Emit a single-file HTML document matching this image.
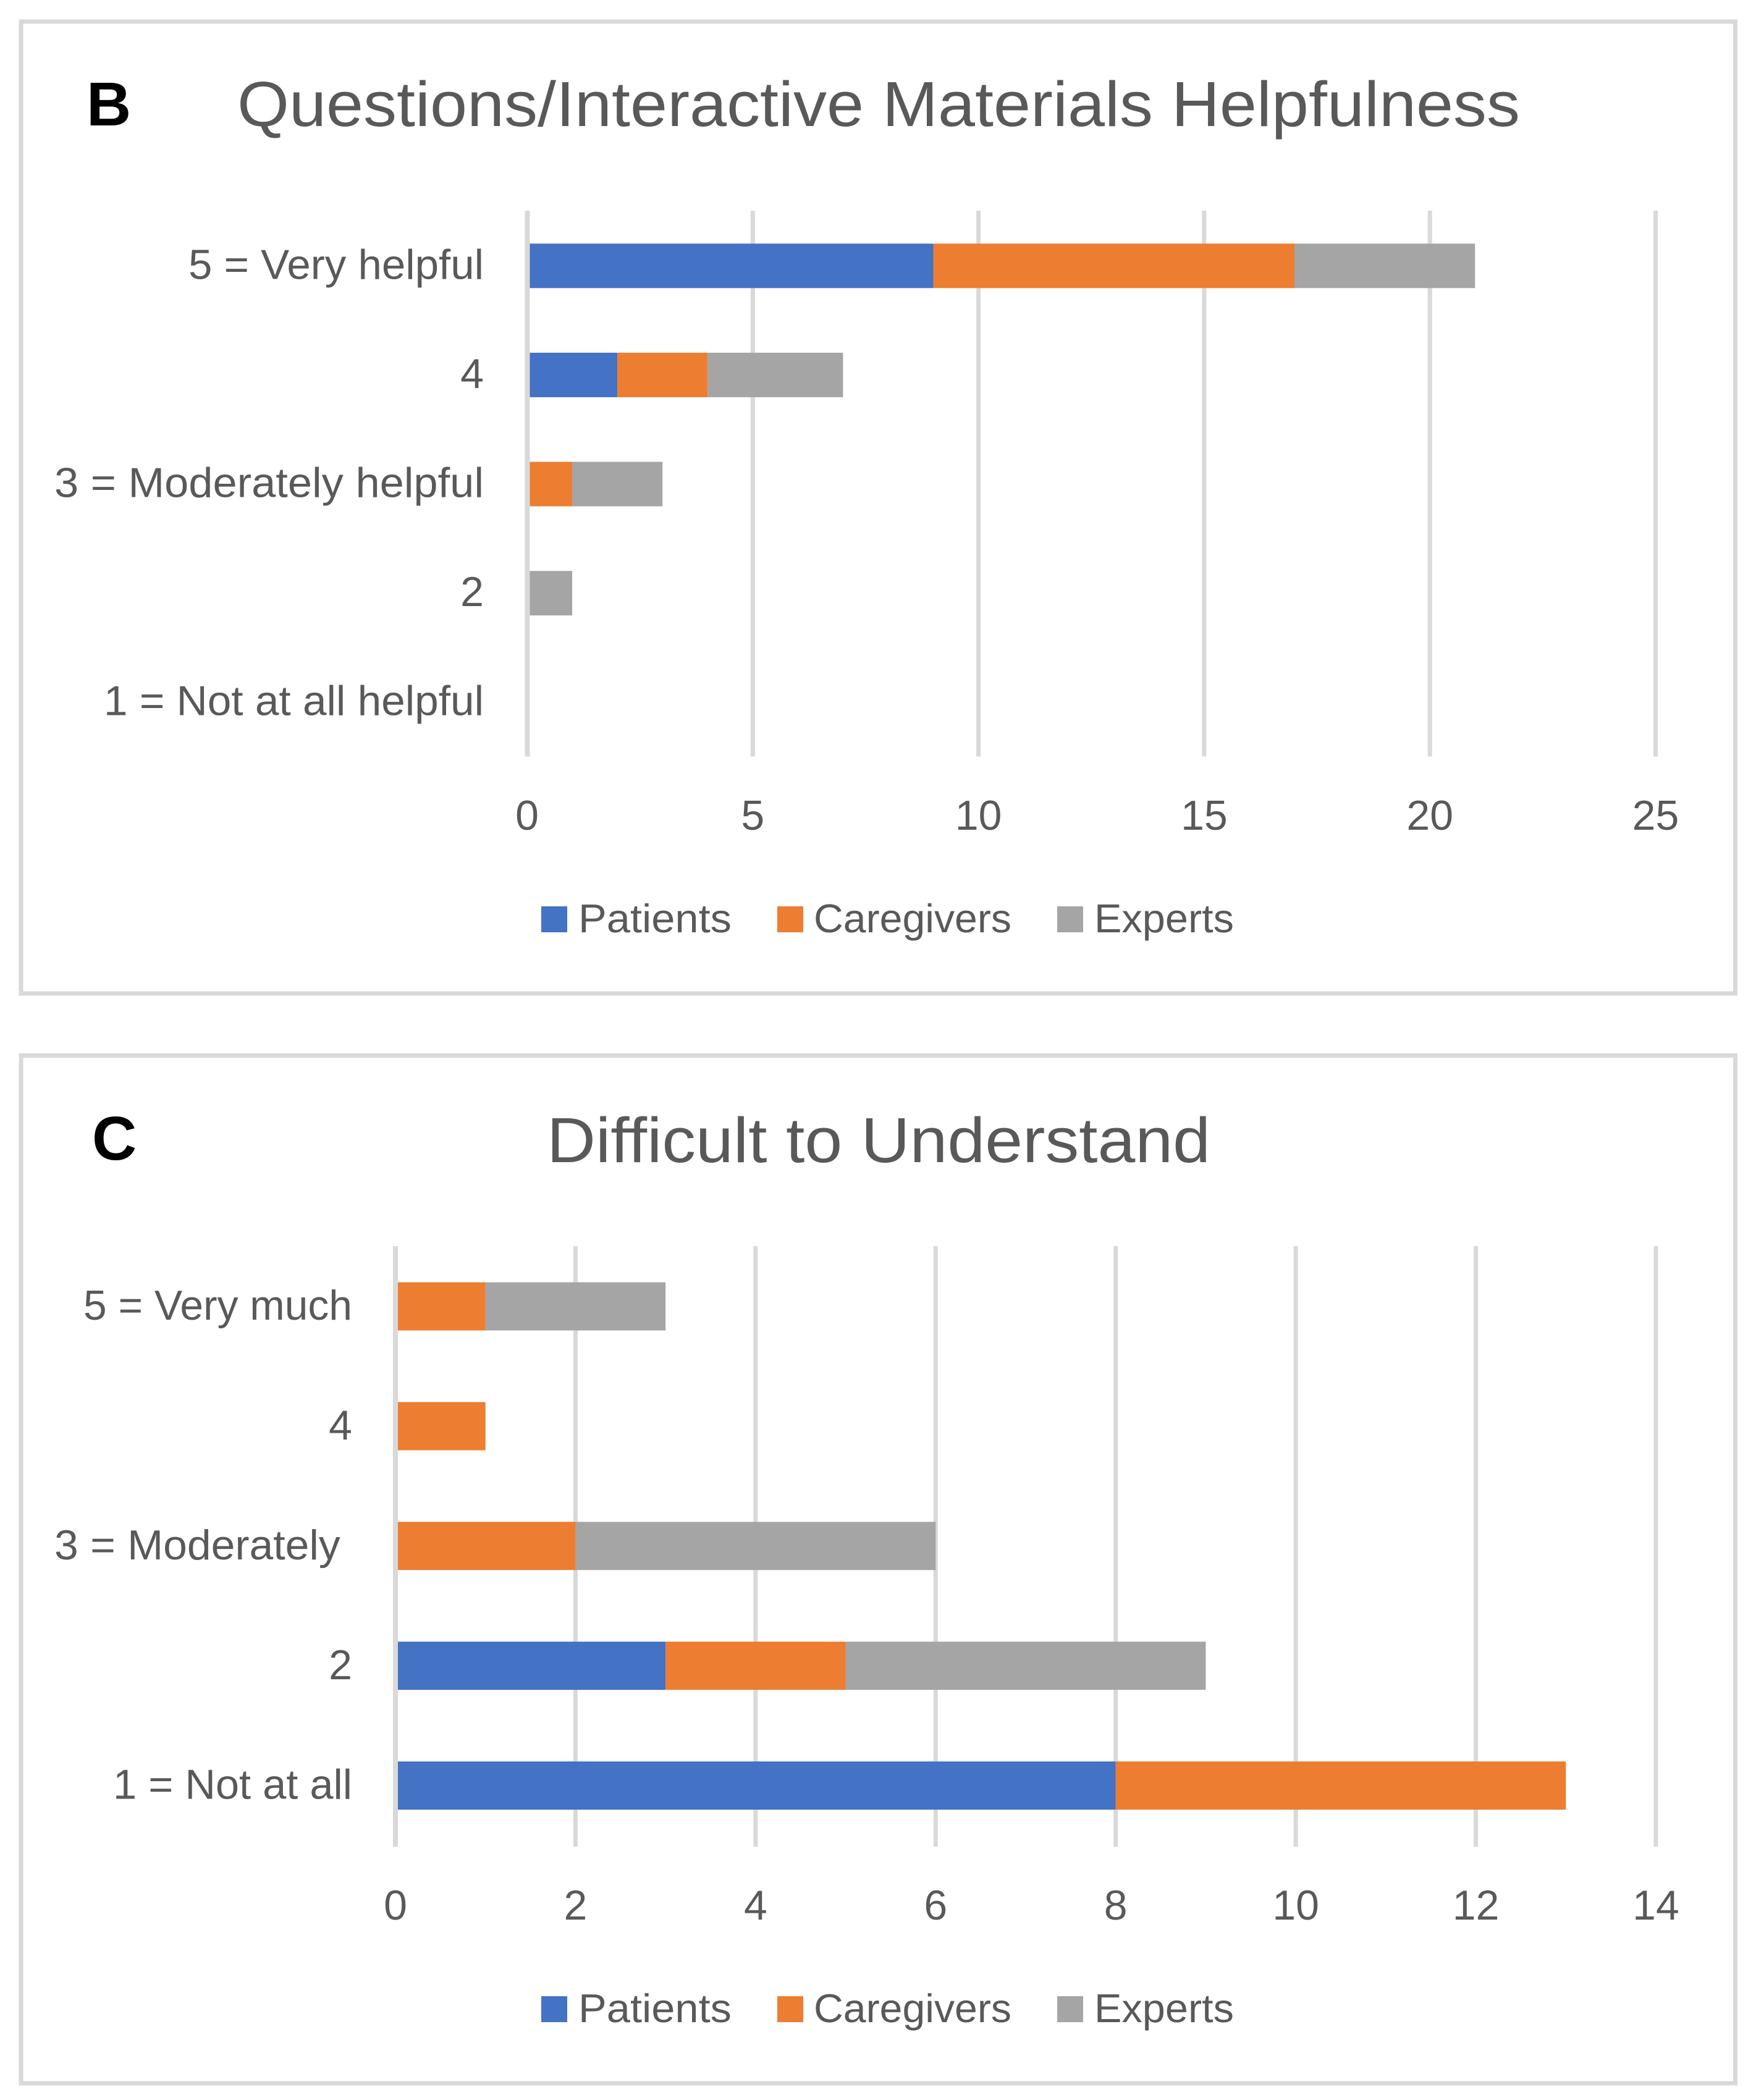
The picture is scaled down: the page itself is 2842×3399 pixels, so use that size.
<!DOCTYPE html>
<html lang="en">
<head>
<meta charset="utf-8">
<title>Questions/Interactive Materials Helpfulness and Difficult to Understand</title>
<style>
  html, body { margin: 0; padding: 0; background: #fff; }
  svg { display: block; }
  text { font-family: "Liberation Sans", sans-serif; fill: #595959; white-space: pre; }
  .panel-letter { font-weight: bold; fill: #000; }
</style>
</head>
<body>
<svg id="figure" xmlns="http://www.w3.org/2000/svg" width="2842" height="3399" viewBox="0 0 2842 3399">
  <rect width="2842" height="3399" fill="#ffffff"/>
  <rect x="34" y="35" width="2774.5" height="1573" fill="#ffffff" stroke="#d9d9d9" stroke-width="7"/>
  <rect x="34" y="1708.5" width="2774.5" height="1663.5" fill="#ffffff" stroke="#d9d9d9" stroke-width="7"/>
  <text class="panel-letter" x="140" y="203" font-size="100">B</text>
  <text class="panel-letter" x="149" y="1877" font-size="100">C</text>
  <text x="384" y="204" font-size="103" textLength="2076" lengthAdjust="spacingAndGlyphs">Questions/Interactive Materials Helpfulness</text>
  <text x="885" y="1881" font-size="103" textLength="1074" lengthAdjust="spacingAndGlyphs">Difficult to Understand</text>
  <g id="chart-b"></g>
  <g id="chart-c"></g>
</svg>
<script>
// Shared series
const seriesNames = ['Patients', 'Caregivers', 'Experts'];
const seriesColors = ['#4472c4', '#ed7d31', '#a5a5a5'];

// Chart B data
const categoriesB = ['5 = Very helpful', '4', '3 = Moderately helpful', '2', '1 = Not at all helpful'];
const patientsB = [9, 2, 0, 0, 0];
const caregiversB = [8, 2, 1, 0, 0];
const expertsB = [4, 3, 2, 1, 0];
const ticksB = [0, 5, 10, 15, 20, 25];

// Chart C data
const categoriesC = ['5 = Very much', '4', '3 = Moderately ', '2', '1 = Not at all'];
const patientsC = [0, 0, 0, 3, 8];
const caregiversC = [1, 1, 2, 2, 5];
const expertsC = [2, 0, 4, 4, 0];
const ticksC = [0, 2, 4, 6, 8, 10, 12, 14];

// Widths that fit the narrower original typeface, looked up by label text
const labelFit = {
  '5 = Very helpful': 478,
  '3 = Moderately helpful': 695,
  '1 = Not at all helpful': 615,
  '5 = Very much': 435,
  '3 = Moderately ': 482,
  '1 = Not at all': 387
};

const SVG_NS = 'http://www.w3.org/2000/svg';
function make(tag, parent, attrs, content) {
  const el = document.createElementNS(SVG_NS, tag);
  for (const k in attrs) el.setAttribute(k, attrs[k]);
  if (content !== undefined) el.textContent = content;
  parent.appendChild(el);
  return el;
}

function drawChart(root, prefix, cats, series, ticks, lay) {
  const xMax = ticks[ticks.length - 1];
  const xScale = v => lay.x0 + (lay.x1 - lay.x0) * v / xMax;
  const band = (lay.bandBottom - lay.bandTop) / cats.length;
  const yCenter = i => lay.bandTop + band * (i + 0.5);

  // gridlines (the zero line is repeated above the bars)
  ticks.forEach(t => {
    const g = make('rect', root, { x: xScale(t) - 3.5, y: lay.gridTop, width: 7, height: lay.gridBottom - lay.gridTop, fill: '#d9d9d9' });
    
    
  });

  // stacked bars
  cats.forEach((c, i) => {
    let cum = 0;
    series.forEach((vals, s) => {
      const v = vals[i];
      if (v > 0) {
        const b = make('rect', root, {
          x: xScale(cum), y: yCenter(i) - lay.barH / 2,
          width: xScale(cum + v) - xScale(cum), height: lay.barH, fill: seriesColors[s]
        });
        
        
      }
      cum += v;
    });
  });

  const axis = make('rect', root, { x: lay.axisLeft, y: lay.gridTop, width: lay.axisW, height: lay.gridBottom - lay.gridTop, fill: '#d9d9d9' });
  
  

  // category labels
  cats.forEach((c, i) => {
    const attrs = { x: lay.labelRight, y: yCenter(i) + lay.labelDy, 'font-size': 68, 'text-anchor': 'end' };
    if (labelFit[c]) { attrs.textLength = labelFit[c]; attrs.lengthAdjust = 'spacingAndGlyphs'; }
    const t = make('text', root, attrs, c);
    
    
  });

  // x tick labels
  ticks.forEach(v => {
    const t = make('text', root, { x: xScale(v), y: lay.tickY, 'font-size': 68, 'text-anchor': 'middle' }, String(v));
    
    
  });

  // legend
  seriesNames.forEach((name, s) => {
    const sw = make('rect', root, { x: lay.legendSwatchX[s], y: lay.legendY - 42, width: 42, height: 42, fill: seriesColors[s] });
    
    
    const t = make('text', root, { x: lay.legendTextX[s], y: lay.legendY, 'font-size': 65, textLength: lay.legendTextW[s], lengthAdjust: 'spacingAndGlyphs' }, name);
    
    
  });
}

const legendSwatchX = [876, 1258, 1711];
const legendTextX = [936, 1317, 1771];
const legendTextW = [248, 320, 226];

drawChart(document.getElementById('chart-b'), 'chart-b', categoriesB, [patientsB, caregiversB, expertsB], ticksB, {
  x0: 853, x1: 2679.5, gridTop: 341, gridBottom: 1224.5, bandTop: 342, bandBottom: 1225, barH: 72,
  axisLeft: 850.5, axisW: 7,
  labelRight: 783, labelDy: 21, tickY: 1343,
  legendY: 1509, legendSwatchX, legendTextX, legendTextW
});
drawChart(document.getElementById('chart-c'), 'chart-c', categoriesC, [patientsC, caregiversC, expertsC], ticksC, {
  x0: 640, x1: 2680, gridTop: 2017, gridBottom: 2989, bandTop: 2017.5, bandBottom: 2987, barH: 78,
  axisLeft: 636, axisW: 8,
  labelRight: 570, labelDy: 21.6, tickY: 3107,
  legendY: 3273, legendSwatchX, legendTextX, legendTextW
});
</script>
</body>
</html>
